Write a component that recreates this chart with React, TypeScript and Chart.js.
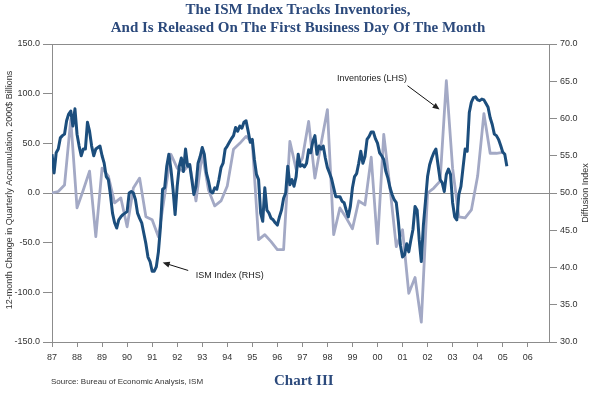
import React, { useEffect, useRef } from "react";
import { Chart, registerables } from "chart.js";

Chart.register(...registerables);

// ---------- data ----------
const START_YEAR = 1987;
const END_YEAR = 2006.85;
const YEAR_TICKS = [1987, 1988, 1989, 1990, 1991, 1992, 1993, 1994, 1995, 1996, 1997, 1998, 1999, 2000, 2001, 2002, 2003, 2004, 2005, 2006];
const LEFT_TICKS = [-150, -100, -50, 0, 50, 100, 150];
const RIGHT_TICKS = [30, 35, 40, 45, 50, 55, 60, 65, 70];

// ISM index, monthly from Jan 1987 (RHS, diffusion index)
const ISM_INDEX = [
  55.2, 52.7, 55.4, 55.9, 57.4, 57.7, 57.9, 59.7, 60.6, 61.0, 59.0, 61.3,
  57.9, 56.3, 55.0, 55.9, 55.9, 59.5, 58.3, 56.3, 55.0, 55.9, 56.1, 56.3,
  55.0, 54.0, 52.2, 51.8, 49.8, 47.3, 46.0, 45.3, 46.4, 46.8, 47.1, 47.3,
  47.5, 50.0, 50.2, 50.0, 49.1, 47.3, 46.6, 46.0, 44.6, 43.2, 41.4, 40.8,
  39.5, 39.5, 40.1, 42.1, 45.5, 50.5, 50.7, 53.6, 55.2, 53.2, 50.5, 47.1,
  50.9, 53.6, 54.7, 52.9, 55.9, 53.6, 53.8, 51.8, 49.8, 50.9, 54.0, 54.9,
  56.1, 55.2, 52.7, 51.6, 50.2, 50.0, 50.7, 50.5, 51.8, 53.4, 54.0, 55.9,
  56.3, 56.8, 57.3, 57.7, 58.8, 58.3, 59.0, 58.7, 59.5, 59.7, 58.3, 56.8,
  57.2, 54.5, 52.5, 51.8, 47.3, 46.2, 50.7, 47.7, 47.3, 46.6, 46.4, 46.0,
  45.7, 46.8, 47.7, 49.3, 50.0, 53.6, 51.1, 51.8, 50.9, 52.2, 55.2, 53.6,
  53.8, 53.5, 54.0, 55.8, 55.4, 56.9, 57.7, 55.2, 56.3, 55.9, 56.3, 54.7,
  53.4, 52.7, 51.9, 50.7, 49.5, 49.5, 49.5, 48.9, 48.7, 47.7, 46.8, 48.2,
  50.7, 52.2, 52.6, 54.0, 55.6, 54.0, 54.9, 57.2, 57.6, 58.2, 58.2, 57.3,
  56.7, 55.4, 55.0, 54.5, 52.9, 52.0, 50.7, 49.8, 49.1, 48.7, 46.2, 43.0,
  41.4, 41.7, 43.2, 42.1, 43.7, 45.1, 48.2, 47.7, 43.7, 40.8, 45.7, 48.9,
  52.2, 53.8, 54.7, 55.4, 55.9, 53.8, 51.8, 51.4, 50.2, 52.5, 53.2, 52.5,
  48.7, 46.8, 46.4, 49.8, 50.9, 53.4, 55.9, 55.6, 60.8, 62.2, 62.8, 62.9,
  62.5, 62.4, 62.6, 62.5, 62.0, 61.5, 60.1, 59.2, 57.9, 57.7, 57.2, 56.4,
  55.5, 55.2, 53.6,
];

// Inventories, quarterly from 1987 Q1 (LHS, 2000$ billions)
const INVENTORIES = [
  0, 1.5, 8, 74,
  -15, 3, 22, -44,
  25, 17, -10, -5,
  -34, 5, 15, -24,
  -27, -44, -2, 39,
  25, 22, 29, -8,
  40, 3, -13, -8,
  7, 44, 50, 57,
  51, -47, -42, -49,
  -57, -57, 52, 24,
  35, 72, 15, 50,
  84, -42, -15, -25,
  -36, -8, -12, 36,
  -51, 59, 5, -54,
  -37, -101, -85, -130,
  0, 5, 12, 113,
  25, -24, -25, -17,
  17, 80, 40, 40,
  41,
];

const TITLE_LINE_1 = "The ISM Index Tracks Inventories,";
const TITLE_LINE_2 = "And Is Released On The First Business Day Of The Month";
const LEFT_AXIS_TITLE = "12-month Change in Quarterly Accumulation, 2000$ Billions";
const RIGHT_AXIS_TITLE = "Diffusion Index";
const SOURCE_TEXT = "Source: Bureau of Economic Analysis, ISM";
const CHART_LABEL = "Chart III";
const ISM_LABEL = "ISM Index (RHS)";
const INV_LABEL = "Inventories (LHS)";

const DARK = "#1c4e7d";
const LIGHT = "#a3a9c5";
const AXIS = "#8c8c8c";
const TEXT = "#333333";
const NAVY = "#2c4a7c";
const SANS = '"Liberation Sans", Arial, Helvetica, sans-serif';

function drawArrow(ctx: CanvasRenderingContext2D, x1: number, y1: number, x2: number, y2: number) {
  const ang = Math.atan2(y2 - y1, x2 - x1);
  const head = 7;
  const half = 3;
  ctx.beginPath();
  ctx.moveTo(x1, y1);
  ctx.lineTo(x2 - Math.cos(ang) * head * 0.8, y2 - Math.sin(ang) * head * 0.8);
  ctx.stroke();
  ctx.beginPath();
  ctx.moveTo(x2, y2);
  ctx.lineTo(x2 - Math.cos(ang) * head - Math.sin(ang) * half, y2 - Math.sin(ang) * head + Math.cos(ang) * half);
  ctx.lineTo(x2 - Math.cos(ang) * head + Math.sin(ang) * half, y2 - Math.sin(ang) * head - Math.cos(ang) * half);
  ctx.closePath();
  ctx.fill();
}

const annotationPlugin = {
  id: "annotations",
  afterDraw(chart: any) {
    const { ctx, scales, chartArea } = chart;
    const x = scales.x;
    const y = scales.y;
    ctx.save();
    ctx.fillStyle = TEXT;
    ctx.font = `9px ${SANS}`;
    ctx.textBaseline = "middle";
    ctx.textAlign = "center";
    // left axis title
    ctx.save();
    ctx.translate(10, (chartArea.top + chartArea.bottom) / 2 - 3);
    ctx.rotate(-Math.PI / 2);
    ctx.fillText(LEFT_AXIS_TITLE, 0, 0);
    ctx.restore();
    // right axis title
    ctx.save();
    ctx.translate(586, (chartArea.top + chartArea.bottom) / 2);
    ctx.rotate(-Math.PI / 2);
    ctx.fillText(RIGHT_AXIS_TITLE, 0, 0);
    ctx.restore();

    // annotations (positioned in data units)
    ctx.textAlign = "left";
    ctx.fillStyle = "#222";
    ctx.strokeStyle = "#111";
    ctx.lineWidth = 1;
    ctx.fillText(ISM_LABEL, x.getPixelForValue(1992.74), y.getPixelForValue(-83));
    drawArrow(ctx, x.getPixelForValue(1992.44), y.getPixelForValue(-78), x.getPixelForValue(1991.42), y.getPixelForValue(-70));
    ctx.fillText(INV_LABEL, x.getPixelForValue(1998.38), y.getPixelForValue(115));
    drawArrow(ctx, x.getPixelForValue(2001.2), y.getPixelForValue(108), x.getPixelForValue(2002.48), y.getPixelForValue(84));
    ctx.restore();
  },
};

export default function App() {
  const canvasRef = useRef<HTMLCanvasElement | null>(null);

  useEffect(() => {
    const canvas = canvasRef.current;
    if (!canvas) return;
    const ismData = ISM_INDEX.map((v, i) => ({ x: START_YEAR + i / 12, y: v }));
    const invData = INVENTORIES.map((v, i) => ({ x: START_YEAR + i / 4, y: v }));
    const tickFont = { family: SANS, size: 9 };

    const chart = new Chart(canvas, {
      type: "line",
      data: {
        datasets: [
          {
            label: ISM_LABEL,
            data: ismData,
            yAxisID: "y1",
            borderColor: DARK,
            borderWidth: 3,
            pointRadius: 0,
            tension: 0,
            fill: false,
            borderJoinStyle: "round",
          },
          {
            label: INV_LABEL,
            data: invData,
            yAxisID: "y",
            borderColor: LIGHT,
            borderWidth: 2.8,
            pointRadius: 0,
            tension: 0,
            fill: false,
            borderJoinStyle: "round",
          },
        ],
      },
      options: {
        animation: false,
        responsive: false,
        events: [],
        layout: { padding: { top: 44, left: 0, right: 0, bottom: 0 } },
        plugins: { legend: { display: false }, tooltip: { enabled: false }, title: { display: false } },
        scales: {
          x: {
            type: "linear",
            min: START_YEAR,
            max: END_YEAR,
            afterBuildTicks: (s: any) => {
              s.ticks = YEAR_TICKS.map((v) => ({ value: v }));
            },
            afterFit: (s: any) => {
              s.height = 51;
            },
            grid: { drawOnChartArea: false, color: AXIS, tickLength: 5 },
            border: { color: AXIS, width: 1 },
            ticks: {
              font: tickFont,
              color: TEXT,
              padding: 5,
              maxRotation: 0,
              autoSkip: false,
              callback: (v: any) => String(Math.round(v) % 100).padStart(2, "0"),
            },
          },
          y: {
            type: "linear",
            position: "left",
            min: -150,
            max: 150,
            afterBuildTicks: (s: any) => {
              s.ticks = LEFT_TICKS.map((v) => ({ value: v }));
            },
            afterFit: (s: any) => {
              s.width = 52;
            },
            grid: {
              color: (c: any) => (c.tick && (c.tick.value === 0 || c.tick.value === 150) ? AXIS : "rgba(0,0,0,0)"),
              tickColor: AXIS,
              tickLength: 9,
            },
            border: { color: AXIS, width: 1 },
            ticks: { font: tickFont, color: TEXT, padding: 3, callback: (v: any) => Number(v).toFixed(1) },
          },
          y1: {
            type: "linear",
            position: "right",
            min: 30,
            max: 70,
            afterBuildTicks: (s: any) => {
              s.ticks = RIGHT_TICKS.map((v) => ({ value: v }));
            },
            afterFit: (s: any) => {
              s.width = 46;
            },
            grid: { drawOnChartArea: false, color: AXIS, tickLength: 8 },
            border: { color: AXIS, width: 1 },
            ticks: { font: tickFont, color: TEXT, padding: 3, callback: (v: any) => Number(v).toFixed(1) },
          },
        },
      },
      plugins: [annotationPlugin],
    } as any);

    return () => chart.destroy();
  }, []);

  return (
    <div style={{ position: "fixed", left: 0, top: 0, width: 595, height: 393, background: "#fff", overflow: "hidden" }}>
      <canvas ref={canvasRef} width={595} height={393} style={{ position: "absolute", left: 0, top: 0, width: 595, height: 393 }} />
      <div
        style={{
          position: "absolute",
          left: 0,
          top: 0,
          width: 596,
          textAlign: "center",
          fontFamily: '"Liberation Serif", "Times New Roman", serif',
          fontWeight: "bold",
          fontSize: 15,
          lineHeight: "18px",
          color: NAVY,
        }}
      >
        <div>{TITLE_LINE_1}</div>
        <div>{TITLE_LINE_2}</div>
      </div>
      <div
        style={{
          position: "absolute",
          left: 51,
          top: 377,
          fontFamily: SANS,
          fontSize: 8,
          lineHeight: "10px",
          color: TEXT,
          whiteSpace: "nowrap",
        }}
      >
        {SOURCE_TEXT}
      </div>
      <div
        style={{
          position: "absolute",
          left: 274,
          top: 371,
          fontFamily: '"Liberation Serif", "Times New Roman", serif',
          fontWeight: "bold",
          fontSize: 15,
          lineHeight: "18px",
          color: NAVY,
          whiteSpace: "nowrap",
        }}
      >
        {CHART_LABEL}
      </div>
    </div>
  );
}
